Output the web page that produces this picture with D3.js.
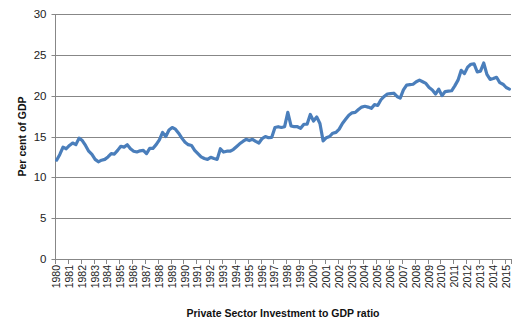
<!DOCTYPE html>
<html>
<head>
<meta charset="utf-8">
<script src="https://cdn.jsdelivr.net/npm/d3@7"></script>
<style>
  html, body { margin: 0; padding: 0; background: #fff; }
  svg { display: block; }
</style>
</head>
<body>
<svg id="chart" width="524" height="324"></svg>
<script>
// ---- data ----
const yearLabels = ["1980","1981","1982","1983","1984","1985","1986","1987","1988","1989",
  "1990","1991","1992","1993","1994","1995","1996","1997","1998","1999",
  "2000","2001","2002","2003","2004","2005","2006","2007","2008","2009",
  "2010","2011","2012","2013","2014","2015"];
const quarterNames = ["Q1","Q2","Q3","Q4"];
// Private sector investment, per cent of GDP, quarterly 1980Q1 - 2015Q2
const values = [
  12.1, 12.8, 13.7, 13.5,   // 1980
  13.9, 14.2, 14.0, 14.8,   // 1981
  14.5, 13.9, 13.2, 12.8,   // 1982
  12.2, 11.9, 12.1, 12.2,   // 1983
  12.5, 12.9, 12.85, 13.3,  // 1984
  13.8, 13.7, 14.0, 13.5,   // 1985
  13.2, 13.1, 13.25, 13.3,  // 1986
  12.9, 13.55, 13.55, 14.0, // 1987
  14.6, 15.5, 15.0, 15.8,   // 1988
  16.1, 15.9, 15.4, 14.8,   // 1989
  14.3, 14.0, 13.9, 13.3,   // 1990
  12.9, 12.5, 12.3, 12.2,   // 1991
  12.45, 12.3, 12.2, 13.5,  // 1992
  13.1, 13.2, 13.2, 13.4,   // 1993
  13.75, 14.1, 14.4, 14.65, // 1994
  14.5, 14.65, 14.4, 14.2,  // 1995
  14.75, 15.0, 14.85, 14.9, // 1996
  16.1, 16.2, 16.1, 16.2,   // 1997
  17.95, 16.3, 16.2, 16.2,  // 1998
  16.0, 16.5, 16.5, 17.7,   // 1999
  16.9, 17.4, 16.6, 14.45,  // 2000
  14.85, 15.0, 15.4, 15.5,  // 2001
  15.9, 16.6, 17.1, 17.6,   // 2002
  17.9, 17.95, 18.3, 18.6,  // 2003
  18.7, 18.6, 18.45, 18.9,  // 2004
  18.8, 19.5, 19.9, 20.2,   // 2005
  20.25, 20.3, 19.9, 19.7,  // 2006
  20.7, 21.3, 21.35, 21.4,  // 2007
  21.7, 21.9, 21.7, 21.5,   // 2008
  21.0, 20.7, 20.2, 20.8,   // 2009
  20.0, 20.5, 20.55, 20.6,  // 2010
  21.2, 21.9, 23.1, 22.7,   // 2011
  23.5, 23.85, 23.9, 22.9,  // 2012
  23.0, 24.0, 22.6, 22.0,   // 2013
  22.1, 22.25, 21.6, 21.4,  // 2014
  21.0, 20.8                // 2015
];
const yTicks = [0, 5, 10, 15, 20, 25, 30];
const xTitle = "Private Sector Investment to GDP ratio";
const yTitle = "Per cent of GDP";

// ---- layout ----
const margin = { left: 55, right: 13, top: 14, bottom: 65 };
const W = 524, H = 324;
const plotW = W - margin.left - margin.right;
const plotH = H - margin.top - margin.bottom;

const quarters = [];
yearLabels.forEach(y => quarterNames.forEach(q => quarters.push(y + q)));
const quarterDomain = quarters.slice(0, values.length);
const data = quarterDomain.map((q, i) => ({ q, v: values[i] }));

const svg = d3.select("#chart");
const g = svg.append("g").attr("transform", `translate(${margin.left},${margin.top})`);

const x = d3.scaleBand().domain(quarterDomain).range([0, plotW]).paddingInner(0).paddingOuter(0);
const y = d3.scaleLinear().domain([0, 30]).range([plotH, 0]);

// gridlines
g.append("g").selectAll("line").data(yTicks.filter(d => d > 0)).join("line")
  .attr("x1", 0).attr("x2", plotW)
  .attr("y1", d => Math.round(y(d)) + 0.5).attr("y2", d => Math.round(y(d)) + 0.5)
  .attr("stroke", "#878787").attr("stroke-width", 1);

// y axis
const yAxis = g.append("g").attr("transform", "translate(0.5,0)")
  .call(d3.axisLeft(y).tickValues(yTicks).tickSize(4).tickPadding(5));
yAxis.select(".domain").attr("stroke", "#878787").attr("d", `M0,${plotH}V0`);
yAxis.selectAll(".tick line").attr("stroke", "#878787");
yAxis.selectAll(".tick").attr("transform", d => `translate(0,${Math.round(y(d)) + 0.5})`);
yAxis.selectAll("text").attr("font-family", "Liberation Sans, Arial, sans-serif")
  .attr("font-size", 11.5).attr("fill", "#222");

// x axis baseline
g.append("line").attr("x1", 0).attr("x2", plotW)
  .attr("y1", plotH + 0.5).attr("y2", plotH + 0.5)
  .attr("stroke", "#878787").attr("stroke-width", 1);

// x tick marks at year boundaries
const yearStarts = quarterDomain.filter(q => q.endsWith("Q1"));
const bounds = yearStarts.map(q => x(q)).concat([plotW]);
g.append("g").selectAll("line").data(bounds).join("line")
  .attr("x1", d => Math.round(d) + 0.5).attr("x2", d => Math.round(d) + 0.5)
  .attr("y1", plotH).attr("y2", plotH + 5)
  .attr("stroke", "#878787");

// x labels (rotated)
g.append("g").selectAll("text").data(yearStarts).join("text")
  .attr("transform", q => `translate(${x(q) + x.bandwidth() / 2 + 3.5},${plotH + 6}) rotate(-90)`)
  .attr("text-anchor", "end")
  .attr("font-family", "Liberation Sans, Arial, sans-serif")
  .attr("font-size", 10.5).attr("fill", "#222")
  .text(q => q.slice(0, 4));

// line
const line = d3.line()
  .x(d => x(d.q) + x.bandwidth() / 2)
  .y(d => y(d.v))
  .curve(d3.curveLinear);
g.append("path").datum(data)
  .attr("d", line)
  .attr("fill", "none")
  .attr("stroke", "#4a7ebb")
  .attr("stroke-width", 3.2)
  .attr("stroke-linejoin", "round")
  .attr("stroke-linecap", "round");

// titles
svg.append("text")
  .attr("x", margin.left + plotW / 2).attr("y", 317)
  .attr("text-anchor", "middle")
  .attr("font-family", "Liberation Sans, Arial, sans-serif")
  .attr("font-weight", "bold").attr("font-size", 10.5).attr("fill", "#111")
  .text(xTitle);

svg.append("text")
  .attr("transform", `translate(26,${margin.top + plotH / 2}) rotate(-90)`)
  .attr("text-anchor", "middle")
  .attr("font-family", "Liberation Sans, Arial, sans-serif")
  .attr("font-weight", "bold").attr("font-size", 10.5).attr("fill", "#111")
  .text(yTitle);
</script>
</body>
</html>
